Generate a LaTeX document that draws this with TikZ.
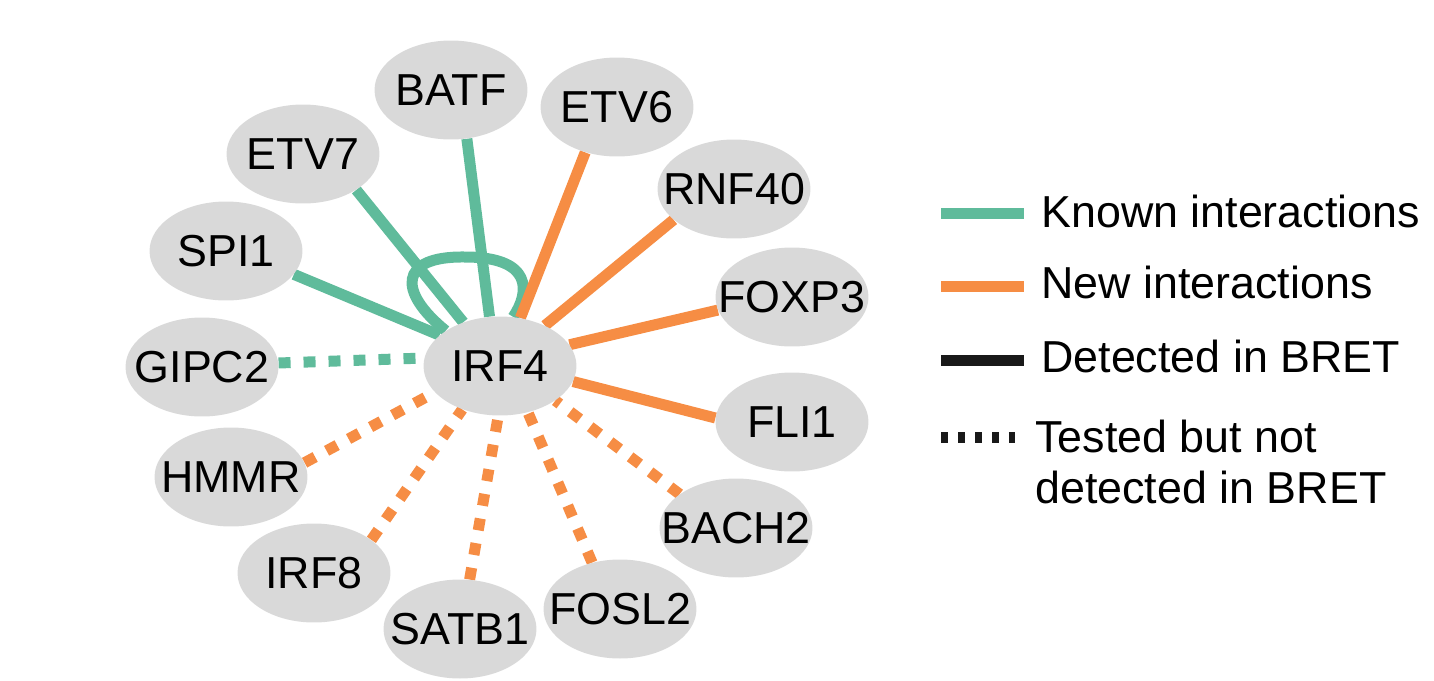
\documentclass[tikz,border=0pt]{standalone}
\usepackage{fontspec}
\setmainfont{Liberation Sans}
\usetikzlibrary{backgrounds,shapes.geometric}
\definecolor{knownc}{HTML}{5FBB9B}
\definecolor{newc}{HTML}{F68D44}
\definecolor{nodegray}{HTML}{D9D9D9}
\newcommand{\gtxt}[1]{\makebox[0pt][c]{#1}}
\tikzset{
  gene/.style={ellipse, fill=nodegray, draw=none, minimum width=3.06cm, minimum height=1.98cm, inner sep=0pt, font=\fontsize{25.5}{30}\selectfont, text=black},
  edge/.style={line width=0.22cm, line cap=butt},
  known/.style={edge, draw=knownc},
  new/.style={edge, draw=newc},
  notdet/.style={dash pattern=on 0.24cm off 0.26cm},
  legtext/.style={font=\fontsize{25.5}{29}\selectfont, inner sep=0pt, text=black, align=left},
  legline/.style={line width=0.22cm, line cap=butt}
}
\begin{document}
\begin{tikzpicture}[x=0.02cm, y=-0.02cm]
\useasboundingbox (0,0) rectangle (1434,680);

% nodes
\node[gene] (irf4)  at (500,366) {\gtxt{IRF4}};
\node[gene] (batf)  at (451,90)  {\gtxt{BATF}};
\node[gene] (etv6)  at (617,107) {\gtxt{ETV6}};
\node[gene] (etv7)  at (303,154) {\gtxt{ETV7}};
\node[gene] (rnf40) at (734,189) {\gtxt{RNF40}};
\node[gene] (spi1)  at (226,251) {\gtxt{SPI1}};
\node[gene] (foxp3) at (792,297) {\gtxt{FOXP3}};
\node[gene] (gipc2) at (202,367) {\gtxt{GIPC2}};
\node[gene] (fli1)  at (792,422) {\gtxt{FLI1}};
\node[gene] (hmmr)  at (231,477) {\gtxt{HMMR}};
\node[gene] (bach2) at (736,528) {\gtxt{BACH2}};
\node[gene] (irf8)  at (314,573) {\gtxt{IRF8}};
\node[gene] (fosl2) at (620,609) {\gtxt{FOSL2}};
\node[gene] (satb1) at (460,629) {\gtxt{SATB1}};

\begin{scope}[on background layer]
  % known, detected
  \draw[known] (batf.-72) -- (irf4.102);
  \draw[known] (etv7.-34) -- (irf4.130);
  \draw[known] (spi1.-19) -- (irf4.153);
  % self loop
  \draw[known] (irf4.147) .. controls (398,292) and (398,256) .. (465,257)
                          .. controls (533,257) and (530,292) .. (irf4.75);
  % known, not detected
  \draw[known, notdet] (gipc2.3) -- (irf4.174);
  % new, detected
  \draw[new] (etv6.235) -- (irf4.67);
  \draw[new] (rnf40.207) -- (irf4.42);
  \draw[new] (foxp3.190) -- (irf4.17);
  \draw[new] (fli1.177) -- (irf4.-12);
  % new, not detected
  \draw[new, notdet] (hmmr.11) -- (irf4.202);
  \draw[new, notdet] (irf8.30) -- (irf4.229);
  \draw[new, notdet] (satb1.79) -- (irf4.268);
  \draw[new, notdet] (fosl2.121) -- (irf4.301);
  \draw[new, notdet] (bach2.149) -- (irf4.328);
\end{scope}

% legend
\draw[legline, draw=knownc] (941,213) -- (1024,213);
\draw[legline, draw=newc] (941,286) -- (1024,286);
\draw[legline, draw=black!90] (941,360) -- (1024,360);
\draw[legline, draw=black!90, dash pattern=on 0.13cm off 0.21cm] (941,437) -- (1024,437);

\node[legtext, anchor=base west] (lk) at (1041,227) {Known interactions};
\node[legtext, anchor=base west] (ln) at (1041,298) {New interactions};
\node[legtext, anchor=base west] (ld) at (1041,372) {Detected in BRET};
\node[legtext, anchor=north west] (lt) at (1035,420) {Tested but not\\detected in BRET};
\end{tikzpicture}
\end{document}
